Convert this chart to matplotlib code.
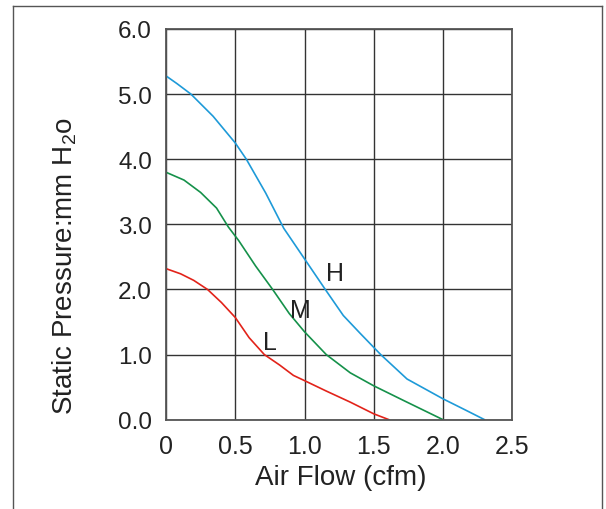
import matplotlib
matplotlib.use("Agg")
import matplotlib.pyplot as plt
from matplotlib.lines import Line2D

plt.rcParams['font.family'] = ['Liberation Sans', 'DejaVu Sans']
plt.rcParams['mathtext.fontset'] = 'custom'
plt.rcParams['mathtext.rm'] = 'Liberation Sans'
plt.rcParams['mathtext.it'] = 'Liberation Sans:italic'

# curves
h_flow = [0, 0.08, 0.18, 0.34, 0.50, 0.58, 0.72, 0.85, 1.0, 1.15, 1.28, 1.40, 1.55, 1.74, 2.0, 2.165, 2.30]
h_press = [5.28, 5.16, 5.0, 4.66, 4.25, 4.0, 3.48, 2.94, 2.47, 2.0, 1.60, 1.33, 1.0, 0.625, 0.32, 0.145, 0.0]

m_flow = [0, 0.13, 0.25, 0.365, 0.45, 0.525, 0.647, 0.77, 0.89, 1.0, 1.157, 1.33, 1.5, 1.72, 2.0]
m_press = [3.80, 3.68, 3.49, 3.25, 2.96, 2.75, 2.36, 2.0, 1.63, 1.35, 1.0, 0.72, 0.52, 0.29, 0.0]

l_flow = [0, 0.106, 0.20, 0.30, 0.40, 0.50, 0.60, 0.71, 0.82, 0.92, 1.0, 1.157, 1.33, 1.5, 1.61]
l_press = [2.32, 2.24, 2.14, 2.0, 1.80, 1.57, 1.26, 1.0, 0.84, 0.68, 0.60, 0.44, 0.27, 0.09, 0.0]

x_ticks = [0, 0.5, 1.0, 1.5, 2.0, 2.5]
x_tick_labels = ['0', '0.5', '1.0', '1.5', '2.0', '2.5']
y_ticks = [0, 1, 2, 3, 4, 5, 6]
y_tick_labels = ['0.0', '1.0', '2.0', '3.0', '4.0', '5.0', '6.0']

# curve names placed next to each line
curve_labels = [('H', 1.22, 2.25), ('M', 0.97, 1.69), ('L', 0.75, 1.19)]

fig = plt.figure(figsize=(6.06, 5.10), dpi=100)
ax = fig.add_axes([0.2739, 0.1751, 0.5715, 0.7661])

line_kw = dict(lw=1.2, solid_joinstyle='round', solid_capstyle='round')
ax.plot(h_flow, h_press, color='#1e9ad8', **line_kw)
ax.plot(m_flow, m_press, color='#15914a', **line_kw)
ax.plot(l_flow, l_press, color='#e2231a', **line_kw)

for name, x, y in curve_labels:
    ax.text(x, y, name, fontsize=18, ha='center', va='center', color='#222222')

ax.set_xlim(0, 2.5)
ax.set_ylim(0, 6)
ax.set_xticks(x_ticks)
ax.set_xticklabels(x_tick_labels)
ax.set_yticks(y_ticks)
ax.set_yticklabels(y_tick_labels)
ax.tick_params(axis='x', length=0, pad=10, labelsize=18, colors='#222222')
ax.tick_params(axis='y', length=0, pad=10, labelsize=17.5, colors='#222222')

ax.grid(True, color='#333333', lw=1.0)
ax.set_axisbelow(True)
for sp in ax.spines.values():
    sp.set_color('#555555')
    sp.set_linewidth(1.3)

ax.set_xlabel('Air Flow (cfm)', fontsize=20, color='#222222')
ax.xaxis.set_label_coords(0.506, -0.114)
ax.set_ylabel(r'Static Pressure:mm H$_\mathrm{2}$o', fontsize=20, color='#222222')
ax.yaxis.set_label_coords(-0.251, 0.395)

# outer frame (open at the bottom)
fx0, fx1 = 12.7 / 606, 602 / 606
fy1 = 1 - 6.7 / 510
for xs, ys in [([fx0, fx0], [0, fy1]), ([fx0, fx1], [fy1, fy1]), ([fx1, fx1], [fy1, 0])]:
    fig.add_artist(Line2D(xs, ys, color='#555555', lw=1.0, transform=fig.transFigure))

fig.savefig('out.png', dpi=100)
